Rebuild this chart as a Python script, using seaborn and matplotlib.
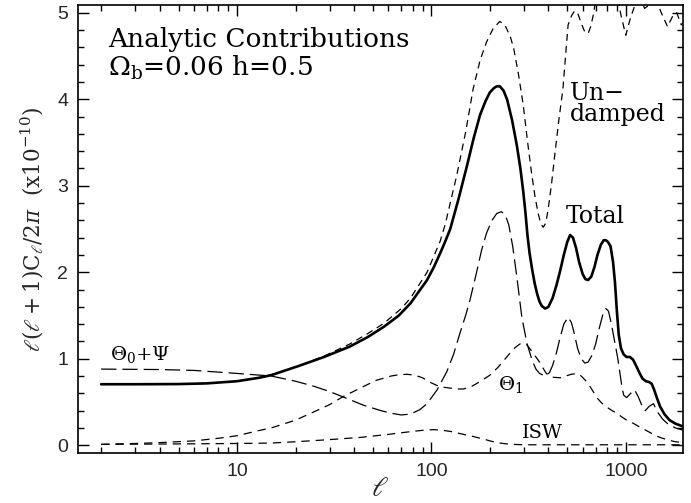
import numpy as np
import pandas as pd
import matplotlib
matplotlib.use("Agg")
import matplotlib.pyplot as plt
import seaborn as sns
from matplotlib.ticker import LogLocator, MultipleLocator, FixedLocator, FixedFormatter, NullFormatter

# ---------------- data ----------------
ell_total = [2, 3, 5, 7, 10, 13, 15, 21, 28, 38, 47, 57, 68, 78, 95, 103, 111, 118, 125, 138,
             152, 165, 178, 190, 200, 210, 217, 225, 235, 245, 260, 275, 287, 297, 305, 312,
             320, 330, 340, 350, 360, 370, 385, 400, 420, 440, 460, 480, 500, 517, 535, 555,
             575, 600, 620, 640, 665, 690, 715, 745, 770, 790, 810, 835, 860, 880, 900, 920,
             945, 975, 1010, 1050, 1090, 1130, 1180, 1220, 1270, 1320, 1360, 1400, 1450,
             1500, 1580, 1680, 1800, 1900, 2000]
val_total = [0.705, 0.705, 0.707, 0.715, 0.74, 0.78, 0.81, 0.92, 1.02, 1.14, 1.25, 1.37, 1.50,
             1.64, 1.91, 2.06, 2.22, 2.36, 2.50, 2.85, 3.22, 3.55, 3.82, 3.98, 4.08, 4.13,
             4.15, 4.15, 4.10, 4.00, 3.76, 3.47, 3.20, 2.93, 2.68, 2.43, 2.22, 2.03, 1.87,
             1.75, 1.66, 1.61, 1.58, 1.60, 1.70, 1.85, 2.02, 2.20, 2.35, 2.43, 2.40, 2.28,
             2.12, 1.98, 1.92, 1.91, 1.95, 2.06, 2.20, 2.32, 2.37, 2.37, 2.35, 2.30, 2.12,
             1.88, 1.55, 1.28, 1.12, 1.05, 1.02, 1.02, 0.99, 0.92, 0.83, 0.77, 0.74, 0.73,
             0.71, 0.64, 0.54, 0.45, 0.36, 0.29, 0.25, 0.23, 0.21]

ell_undamped = [2, 3, 5, 7, 10, 13, 15, 21, 28, 38, 47, 57, 70, 78, 95, 111, 118, 135, 150,
                164, 178, 192, 208, 225, 240, 255, 265, 280, 297, 312, 327, 342, 356, 366, 376,
                388, 400, 415, 431, 452, 475, 490, 505, 527, 545, 565, 590, 615, 640, 660, 680,
                720, 800, 880, 950, 1000, 1060, 1120, 1200, 1250, 1300, 1450, 1530, 1640,
                1760, 1830, 1930, 2000]
val_undamped = [0.705, 0.705, 0.707, 0.715, 0.74, 0.78, 0.815, 0.92, 1.03, 1.17, 1.29, 1.41,
                1.58, 1.70, 2.00, 2.36, 2.56, 3.12, 3.62, 4.12, 4.45, 4.66, 4.82, 4.90, 4.85,
                4.72, 4.59, 4.30, 3.93, 3.52, 3.16, 2.86, 2.66, 2.56, 2.52, 2.57, 2.75, 3.02,
                3.35, 3.75, 4.12, 4.50, 4.86, 4.97, 5.02, 5.00, 4.88, 4.78, 4.76, 4.84, 4.97,
                5.30, 5.50, 5.30, 4.95, 4.74, 4.95, 5.10, 5.15, 5.05, 5.08, 5.12, 4.99, 4.84,
                4.98, 5.00, 4.86, 4.90]

ell_theta0 = [2, 4, 6, 10, 15, 20, 25, 30, 35, 45, 55, 62, 70, 78, 87, 95, 107, 120, 130, 140,
              150, 158, 170, 181, 192, 205, 217, 229, 240, 250, 262, 275, 292, 310, 330, 345,
              360, 385, 405, 420, 440, 460, 480, 505, 525, 545, 565, 590, 615, 640, 670, 700,
              730, 760, 790, 815, 840, 860, 880, 910, 935, 955, 975, 1010, 1060, 1110, 1160,
              1210, 1260, 1320, 1390, 1450, 1550, 1640, 1800, 2000]
val_theta0 = [0.88, 0.875, 0.865, 0.83, 0.80, 0.74, 0.68, 0.62, 0.56, 0.46, 0.40, 0.37, 0.35,
              0.36, 0.41, 0.48, 0.64, 0.85, 1.05, 1.29, 1.50, 1.68, 1.98, 2.25, 2.45, 2.60,
              2.68, 2.70, 2.66, 2.55, 2.30, 1.95, 1.48, 1.18, 0.98, 0.88, 0.83, 0.80, 0.84,
              0.92, 1.07, 1.25, 1.40, 1.48, 1.42, 1.28, 1.12, 1.00, 0.95, 0.96, 1.04, 1.17,
              1.35, 1.50, 1.58, 1.55, 1.42, 1.30, 1.18, 1.00, 0.82, 0.68, 0.58, 0.55, 0.60,
              0.64, 0.56, 0.46, 0.40, 0.45, 0.48, 0.39, 0.30, 0.25, 0.20, 0.17]

ell_theta1 = [2, 3, 4, 6, 8, 10, 13, 15, 20, 24, 30, 35, 43, 52, 62, 68, 75, 82, 90, 98, 107,
              116, 125, 135, 146, 158, 170, 185, 200, 220, 240, 255, 270, 285, 297, 310, 325,
              345, 363, 378, 390, 405, 425, 460, 490, 525, 560, 590, 620, 650, 680, 710, 750,
              800, 850, 900, 950, 1010, 1100, 1180, 1300, 1400, 1500, 1650, 1800, 2000]
val_theta1 = [0.01, 0.02, 0.03, 0.05, 0.08, 0.11, 0.17, 0.20, 0.29, 0.37, 0.47, 0.56, 0.66,
              0.75, 0.80, 0.815, 0.82, 0.81, 0.78, 0.73, 0.69, 0.67, 0.66, 0.65, 0.65, 0.67,
              0.71, 0.76, 0.81, 0.90, 1.00, 1.07, 1.13, 1.17, 1.18, 1.16, 1.10, 1.02, 0.95,
              0.88, 0.83, 0.80, 0.785, 0.78, 0.80, 0.82, 0.83, 0.80, 0.75, 0.69, 0.62, 0.55,
              0.49, 0.44, 0.40, 0.37, 0.33, 0.29, 0.25, 0.21, 0.16, 0.12, 0.09, 0.06, 0.04,
              0.03]

ell_isw = [2, 5, 10, 15, 20, 30, 43, 60, 80, 90, 102, 112, 125, 137, 150, 165, 178, 190, 200,
           212, 225, 245, 260, 300, 400, 1000, 2000]
val_isw = [0.01, 0.015, 0.02, 0.025, 0.04, 0.065, 0.09, 0.125, 0.16, 0.172, 0.18, 0.175, 0.16,
           0.14, 0.12, 0.10, 0.08, 0.065, 0.05, 0.037, 0.025, 0.015, 0.01, 0.005, 0.005,
           0.005, 0.005]

x_ticks = [10, 100, 1000]
x_tick_labels = ["10", "100", "1000"]
y_ticks = [0, 1, 2, 3, 4, 5]
y_tick_labels = ["0", "1", "2", "3", "4", "5"]

# ---------------- figure ----------------
sns.set_theme(style="white")
plt.rcParams["font.family"] = ["DejaVu Serif"]
plt.rcParams["mathtext.fontset"] = "dejavuserif"
plt.rcParams["lines.scale_dashes"] = False

fig = plt.figure(figsize=(6.91, 5.03), dpi=100)
ax = fig.add_axes([78 / 691, 1 - 453 / 503, 605 / 691, 448 / 503])

curves = [
    (ell_undamped, val_undamped, 0.9, (0, (5.0, 3.6))),
    (ell_theta0, val_theta0, 0.9, (0, (11.0, 4.3))),
    (ell_theta1, val_theta1, 0.9, (0, (6.0, 4.3))),
    (ell_isw, val_isw, 0.9, (0, (6.0, 4.3))),
    (ell_total, val_total, 1.9, "-"),
]
for ell, val, lw, ls in curves:
    df = pd.DataFrame({"ell": ell, "val": val})
    sns.lineplot(data=df, x="ell", y="val", ax=ax, color="black", lw=lw,
                 linestyle=ls, estimator=None, sort=True)

ax.set_xscale("log")
ax.set_xlim(1.52, 1970)
ax.set_ylim(-0.09, 5.09)

ax.xaxis.set_major_locator(FixedLocator(x_ticks))
ax.xaxis.set_major_formatter(FixedFormatter(x_tick_labels))
ax.xaxis.set_minor_locator(LogLocator(base=10, subs=np.arange(2, 10), numticks=20))
ax.xaxis.set_minor_formatter(NullFormatter())
ax.yaxis.set_major_locator(FixedLocator(y_ticks))
ax.yaxis.set_major_formatter(FixedFormatter(y_tick_labels))
ax.yaxis.set_minor_locator(MultipleLocator(0.2))

ax.tick_params(which="both", direction="in", top=True, right=True, bottom=True, left=True,
               color="black", width=1.0)
ax.tick_params(which="major", length=8, labelsize=14, pad=7)
ax.tick_params(which="minor", length=4.5)
for lab in ax.get_xticklabels() + ax.get_yticklabels():
    lab.set_family("Liberation Sans")
for sp in ax.spines.values():
    sp.set_color("black")
    sp.set_linewidth(1.2)

ax.set_xlabel("")
fig.text(380 / 691, 1 - 489 / 503, r"$\ell$", fontsize=20, ha="center", va="center")
ax.set_ylabel(r"$\ell(\ell+1)\mathrm{C}_\ell/2\pi$  (x10$^{-10}$)", fontsize=15.5, labelpad=8)

tkw = dict(transform=ax.transAxes, color="black", va="baseline", ha="left")
ax.text(0.0496, 0.906, "Analytic Contributions", fontsize=19, **tkw)
ax.text(0.0496, 0.842, r"$\Omega_{\mathrm{b}}$=0.06 h=0.5", fontsize=19, **tkw)
ax.text(0.813, 0.788, "Un\u2212", fontsize=17, **tkw)
ax.text(0.813, 0.741, "damped", fontsize=17, **tkw)
ax.text(0.807, 0.513, "Total", fontsize=17, **tkw)
ax.text(0.053, 0.208, r"$\Theta_0$+$\Psi$", fontsize=14, **tkw)
ax.text(0.694, 0.141, r"$\Theta_1$", fontsize=14, **tkw)
ax.text(0.734, 0.0335, "ISW", fontsize=14, **tkw)

fig.savefig("out.png", dpi=100)
